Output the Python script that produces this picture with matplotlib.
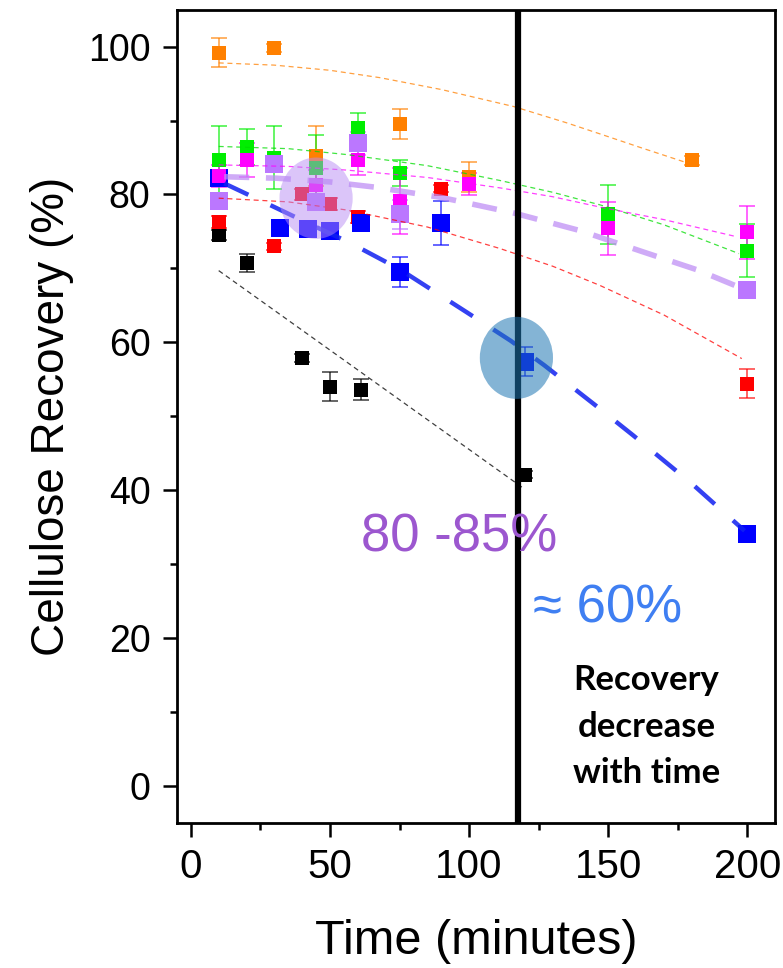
import matplotlib
matplotlib.use("Agg")
import matplotlib.pyplot as plt
from matplotlib.patches import Ellipse
from matplotlib.ticker import MultipleLocator

plt.rcParams['font.family'] = ['Liberation Sans', 'DejaVu Sans']

# measured points (time in minutes, recovery in %)
orange_x = [10, 30, 45, 75, 100, 180]
orange_y = [99.2, 99.8, 85.2, 89.5, 82.4, 84.6]
orange_err = [2.0, 0.5, 4.0, 2.0, 2.0, 0.6]

green_x = [10, 20, 30, 45, 60, 75, 150, 200]
green_y = [84.7, 86.4, 85.0, 83.6, 89.0, 82.9, 77.3, 72.4]
green_err = [4.5, 2.4, 4.2, 4.5, 2.0, 1.8, 4.0, 3.6]

magenta_x = [10, 20, 45, 60, 75, 100, 150, 200]
magenta_y = [82.5, 84.7, 81.3, 84.7, 79.1, 81.4, 75.4, 74.9]
magenta_err = [1.5, 2.3, 2.0, 2.0, 4.5, 1.5, 3.6, 3.6]

lavender_x = [10, 30, 45, 60, 75, 200]
lavender_y = [79.1, 84.1, 79.0, 86.9, 77.3, 67.1]
lavender_err = [1.0, 1.0, 1.0, 1.5, 2.0, 1.0]

blue_x = [10, 32, 42, 50, 61, 75, 90, 120, 200]
blue_y = [82.2, 75.4, 75.3, 75.1, 76.1, 69.5, 76.1, 57.4, 34.1]
blue_err = [0.5, 0.5, 0.5, 0.5, 1.0, 2.0, 3.0, 2.0, 0.5]

red_x = [10, 30, 40, 50, 60, 90, 200]
red_y = [76.3, 73.0, 80.0, 78.7, 77.0, 80.8, 54.4]
red_err = [0.8, 0.5, 0.8, 0.8, 0.8, 0.5, 2.0]

black_x = [10, 20, 40, 50, 61, 120]
black_y = [74.5, 70.7, 57.9, 54.0, 53.6, 42.1]
black_err = [0.7, 1.2, 0.5, 2.0, 1.4, 0.5]

# fitted trend curves
orange_fit_x = [10, 30, 50, 68, 90, 116, 135, 147, 162, 179]
orange_fit_y = [97.8, 97.5, 96.8, 95.8, 94.2, 91.9, 89.7, 88.2, 86.3, 84.2]
green_fit_x = [10, 35, 56, 85, 111, 130, 147, 170, 197]
green_fit_y = [86.5, 86.2, 85.4, 83.9, 81.9, 80.3, 78.6, 75.9, 72.0]
magenta_fit_x = [10, 35, 56, 85, 111, 130, 147, 170, 196]
magenta_fit_y = [84.0, 83.8, 83.3, 82.3, 80.9, 79.7, 78.3, 76.6, 74.3]
lavender_fit_x = [12, 31, 50, 66, 90, 116, 140, 162, 182, 200]
lavender_fit_y = [82.4, 82.2, 81.7, 81.0, 79.6, 77.5, 75.1, 72.3, 69.8, 67.0]
blue_fit_x = [12, 30, 45, 57, 75, 99, 115, 127, 145, 159, 180, 199]
blue_fit_y = [81.5, 78.3, 75.6, 73.5, 69.9, 64.1, 60.2, 56.9, 51.6, 47.4, 40.9, 34.5]
red_fit_x = [10, 35, 56, 85, 111, 130, 147, 170, 198]
red_fit_y = [79.5, 79.0, 77.9, 75.6, 72.7, 70.3, 67.7, 63.7, 57.8]
black_fit_x = [10, 119]
black_fit_y = [69.7, 40.4]

cut_time = 117.5

fig = plt.figure(figsize=(7.83, 9.68), dpi=100)
ax = fig.add_axes([0.226, 0.150, 0.764, 0.840])

series = [
    (black_x, black_y, black_err, '#000000', 10),
    (red_x, red_y, red_err, '#FF0000', 10),
    (blue_x, blue_y, blue_err, '#0000FF', 13.5),
    (orange_x, orange_y, orange_err, '#FF8000', 10),
    (green_x, green_y, green_err, '#00EE00', 10),
    (magenta_x, magenta_y, magenta_err, '#FF00FF', 10),
    (lavender_x, lavender_y, lavender_err, '#BB77FF', 13.5),
]
for xs, ys, errs, col, ms in series:
    ax.errorbar(xs, ys, yerr=errs, fmt='none', ecolor=col, alpha=0.65,
                elinewidth=1.3, capsize=6, capthick=1.3, zorder=2)
    ax.plot(xs, ys, 's', color=col, ms=ms, mew=0, zorder=3)

thin = [
    (orange_fit_x, orange_fit_y, '#FF8000'),
    (green_fit_x, green_fit_y, '#00DD00'),
    (magenta_fit_x, magenta_fit_y, '#FF00FF'),
    (red_fit_x, red_fit_y, '#FF0000'),
    (black_fit_x, black_fit_y, '#000000'),
]
for xs, ys, col in thin:
    ax.plot(xs, ys, color=col, lw=0.9, dashes=(4, 3), alpha=0.75, zorder=4)

ax.plot(lavender_fit_x, lavender_fit_y, color='#BF8FF5', lw=4, dashes=(4.5, 3),
        alpha=0.75, zorder=4)
ax.plot(blue_fit_x, blue_fit_y, color='#1020F0', lw=3.2, dashes=(6, 5.5),
        alpha=0.85, zorder=4)

ax.axvline(cut_time, color='black', lw=4.5, zorder=5)

ax.add_patch(Ellipse((45, 79.5), 26.3, 11.0, color='#B88CF5', alpha=0.5,
                     lw=0, zorder=6))
ax.add_patch(Ellipse((117, 57.9), 26.3, 11.1, color='#1F77B4', alpha=0.55,
                     lw=0, zorder=6))

ax.text(96.4, 31.75, '80 -85%', color='#9C57CF', fontsize=38,
        ha='center', va='baseline', zorder=7)
ax.text(122.9, 22.1, '≈ 60%', color='#3F7FF2', fontsize=38,
        ha='left', va='baseline', zorder=7)
ax.text(163.8, 8.0, 'Recovery\ndecrease\nwith time', fontsize=25,
        fontweight='bold', family=['Lato', 'DejaVu Sans'],
        ha='center', va='center', multialignment='center',
        linespacing=1.55, zorder=7)

ax.set_xlim(-5, 210)
ax.set_ylim(-5, 105)
ax.xaxis.set_major_locator(MultipleLocator(50))
ax.xaxis.set_minor_locator(MultipleLocator(25))
ax.yaxis.set_major_locator(MultipleLocator(20))
ax.yaxis.set_minor_locator(MultipleLocator(10))

ax.tick_params(which='major', direction='out', length=10, width=1.8)
ax.tick_params(which='minor', direction='out', length=5, width=1.8)
ax.tick_params(axis='x', labelsize=29, pad=8)
ax.tick_params(axis='y', labelsize=27, pad=9)
for s in ax.spines.values():
    s.set_linewidth(2)

ax.set_xlabel('Time (minutes)', fontsize=35, labelpad=24)
ax.set_ylabel('Cellulose Recovery (%)', fontsize=33, labelpad=10)

fig.savefig('out.png', dpi=100)
